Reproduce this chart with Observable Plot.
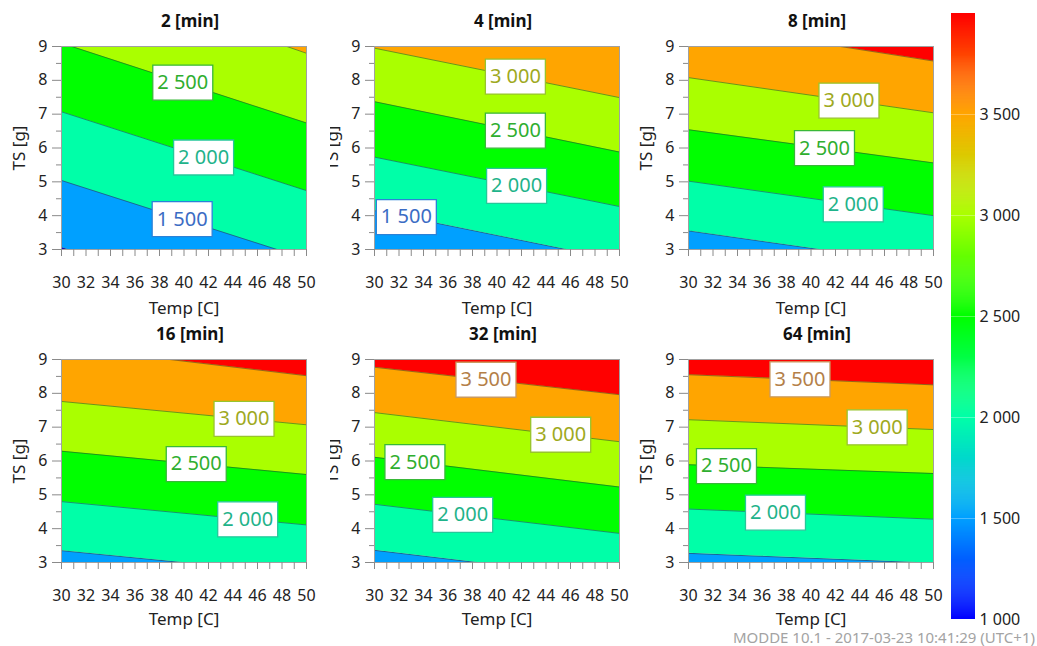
<!DOCTYPE html>
<html>
<head>
<meta charset="utf-8">
<script src="https://cdn.jsdelivr.net/npm/d3@7"></script>
<script src="https://cdn.jsdelivr.net/npm/@observablehq/plot@0.6"></script>
<style>
  body { margin: 0; background: #fff; }
  #chart { position: relative; width: 1037px; height: 646px; overflow: hidden; font-family: "Noto Sans", sans-serif; }
  .cell { position: absolute; overflow: hidden; }
  #caption { position: absolute; right: 2px; top: 629px; font-size: 15px; line-height: 17px; color: #a3a3a3; white-space: nowrap; }
</style>
</head>
<body>
<div id="chart"></div>
<script>
// Response surface: Temp [C] vs TS [g], one panel per time.
const panelTitles = ["2 [min]", "4 [min]", "8 [min]", "16 [min]", "32 [min]", "64 [min]"];
const levels = [1000, 1500, 2000, 2500, 3000, 3500];

// TS where each contour level meets Temp = 30 and Temp = 50 (null: level not present)
const tsAt30 = [
  [3.06, 5.04, 7.07, 9.10, 11.3, null],
  [null, 4.15, 5.73, 7.37, 8.95, null],
  [null, 3.55, 5.02, 6.54, 8.08, 9.70],
  [null, 3.35, 4.80, 6.29, 7.76, 9.38],
  [null, 3.36, 4.72, 6.11, 7.43, 8.77],
  [null, 3.27, 4.58, 5.89, 7.22, 8.55]
];
const tsAt50 = [
  [0.66, 2.72, 4.74, 6.74, 8.80, null],
  [null, 2.68, 4.27, 5.88, 7.49, null],
  [null, 2.52, 4.00, 5.56, 7.04, 8.57],
  [null, 2.64, 4.11, 5.60, 7.07, 8.52],
  [null, 2.50, 3.86, 5.23, 6.57, 7.96],
  [null, 2.98, 4.28, 5.63, 6.93, 8.25]
];

// contour labels: panel, level, and Temp where the label sits on its line
const labelPanel = [0, 0, 0, 1, 1, 1, 1, 2, 2, 2, 3, 3, 3, 4, 4, 4, 4, 5, 5, 5, 5];
const labelLevel = [2500, 2000, 1500, 3000, 2500, 2000, 1500, 3000, 2500, 2000, 3000, 2500, 2000, 3500, 3000, 2500, 2000, 3500, 3000, 2500, 2000];
const labelTemp  = [39.9, 41.6, 39.85, 41.5, 41.5, 41.6, 32.6, 43.1, 41.1, 43.45, 44.9, 41.0, 45.2, 39.1, 45.2, 33.3, 37.2, 39.1, 45.4, 33.1, 37.1];

// axes
const tempDomain = [30, 50];
const tsDomain = [3, 9];
const tempTicks = [30, 31, 32, 33, 34, 35, 36, 37, 38, 39, 40, 41, 42, 43, 44, 45, 46, 47, 48, 49, 50];
const tempLabels = [30, 32, 34, 36, 38, 40, 42, 44, 46, 48, 50];
const tsTicks = [3, 4, 5, 6, 7, 8, 9];
const tsMinorTicks = [3.5, 4.5, 5.5, 6.5, 7.5, 8.5];

// colour bar
const barDomain = [1000, 4000];
const barTicks = [1000, 1500, 2000, 2500, 3000, 3500];
const colorStops = [1000, 1500, 2000, 2500, 3000, 3500, 4000];
const colorRamp = ["#0000ff", "#00a0ff", "#00ffa8", "#00ff00", "#aaff00", "#ffa500", "#ff0000"];

const fmt = d3.formatLocale({decimal: ".", thousands: " ", grouping: [3], currency: ["", ""]}).format(",d");
const colorScale = {type: "linear", domain: colorStops, range: colorRamp, interpolate: "rgb"};

const labelInk = {1500: "#3b6cc4", 2000: "#1fb38a", 2500: "#2fae2f", 3000: "#9ea921", 3500: "#b47f48"};
const labelEdge = {1500: "#2b82d8", 2000: "#25c89a", 2500: "#38b838", 3000: "#98c42c", 3500: "#c99a60"};
const labelBox = {draw(ctx) { ctx.rect(-30, -17.5, 60, 35); }};

const font = "'Noto Sans', sans-serif";
const colLeft = [0, 330, 634];
const colWidth = [330, 304, 311];
const frameInset = [61, 44, 54];
const rowTop = [0, 313];
const rowHeight = [324, 333];
const xLabelDy = [59, 57];
const frameW = 245, frameH = 203, frameTop = 46;

const chart = document.getElementById("chart");

function panel(p) {
  const col = p % 3, row = Math.floor(p / 3);
  const lines = levels
    .map((lv, k) => ({lv, a: tsAt30[p][k], b: tsAt50[p][k]}))
    .filter(d => d.a != null);
  const pts = lines.flatMap(d => [{lv: d.lv, t: tempDomain[0], ts: d.a}, {lv: d.lv, t: tempDomain[1], ts: d.b}]);
  const lowest = lines[0].lv;
  const lineAt = (lv, t) => {
    const d = lines.find(l => l.lv === lv);
    return d.a + (d.b - d.a) * (t - tempDomain[0]) / (tempDomain[1] - tempDomain[0]);
  };
  const labels = labelPanel
    .map((q, i) => ({q, lv: labelLevel[i], t: labelTemp[i]}))
    .filter(d => d.q === p)
    .map(d => ({...d, ts: lineAt(d.lv, d.t)}));

  const width = colWidth[col], height = rowHeight[row];
  const ml = frameInset[col];
  const svg = Plot.plot({
    width, height,
    marginLeft: ml,
    marginRight: width - ml - frameW,
    marginTop: frameTop,
    marginBottom: height - frameTop - frameH,
    x: {domain: tempDomain},
    y: {domain: tsDomain},
    color: colorScale,
    style: {fontFamily: font, fontSize: "16px", color: "#222", background: "transparent", overflow: "visible"},
    marks: [
      // band below the lowest contour
      Plot.areaY(pts.filter(d => d.lv === lowest), {x: "t", y1: tsDomain[0], y2: "ts", fill: d => d.lv, clip: true}),
      // band above each contour, painted upward
      Plot.areaY(pts, {x: "t", y1: "ts", y2: tsDomain[1], z: "lv", fill: d => d.lv + 500, clip: true}),
      Plot.line(pts, {x: "t", y: "ts", z: "lv", stroke: "#333", strokeOpacity: 0.65, strokeWidth: 0.8, clip: true}),
      Plot.frame({stroke: "#a0a0a0"}),
      Plot.axisX(tempTicks, {tickSize: 7, tickPadding: 20, tickFormat: d => tempLabels.includes(d) ? String(d) : "", stroke: "#8a8a8a", fill: "#222", fontSize: 16, label: null}),
      Plot.axisY(tsTicks, {tickSize: 9, tickPadding: 5, stroke: "#8a8a8a", fill: "#222", fontSize: 16, label: null}),
      Plot.axisY(tsMinorTicks, {tickSize: 5, tickFormat: () => "", stroke: "#8a8a8a", label: null}),
      Plot.text([panelTitles[p]], {frameAnchor: "top", lineAnchor: "middle", dy: -25, dx: 6, fontWeight: "bold", fontSize: 17, fill: "#111"}),
      Plot.text(["Temp [C]"], {frameAnchor: "bottom", lineAnchor: "middle", dy: xLabelDy[row], fontSize: 17, fill: "#222"}),
      Plot.text(["TS [g]"], {frameAnchor: "left", textAnchor: "middle", lineAnchor: "middle", dx: -42, rotate: -90, fontSize: 17, fill: "#222"}),
      Plot.dot(labels, {x: "t", y: "ts", symbol: labelBox, fill: "white", stroke: d => labelEdge[d.lv], strokeWidth: 1.3}),
      Plot.text(labels, {x: "t", y: "ts", text: d => fmt(d.lv), fill: d => labelInk[d.lv], fontSize: 20})
    ]
  });
  const cell = document.createElement("div");
  cell.className = "cell";
  cell.style.left = colLeft[col] + "px";
  cell.style.top = rowTop[row] + "px";
  cell.style.width = width + "px";
  cell.style.height = height + "px";
  cell.appendChild(svg);
  chart.appendChild(cell);
}

for (let p = 0; p < panelTitles.length; ++p) panel(p);

// colour bar
const barStep = 5;
const barSteps = d3.range(barDomain[0], barDomain[1], barStep);
const bar = Plot.plot({
  width: 97, height: 646,
  marginLeft: 11, marginRight: 62, marginTop: 13, marginBottom: 27,
  x: {domain: [0, 1], axis: null},
  y: {domain: barDomain},
  color: colorScale,
  style: {fontFamily: font, fontSize: "16px", color: "#222", background: "transparent", overflow: "visible"},
  marks: [
    Plot.rect(barSteps, {x1: 0, x2: 1, y1: d => d, y2: d => Math.min(barDomain[1], d + barStep * 1.4), fill: d => d + barStep / 2}),
    Plot.ruleY(barTicks.slice(1), {stroke: "white", strokeOpacity: 0.3}),
    Plot.axisY(barTicks, {anchor: "right", tickSize: 0, tickPadding: 4, tickFormat: fmt, fill: "#222", fontSize: 16, label: null})
  ]
});
const barCell = document.createElement("div");
barCell.className = "cell";
barCell.style.left = "940px";
barCell.style.top = "0px";
barCell.style.width = "97px";
barCell.style.height = "646px";
barCell.appendChild(bar);
chart.appendChild(barCell);

const caption = document.createElement("div");
caption.id = "caption";
caption.textContent = "MODDE 10.1 - 2017-03-23 10:41:29 (UTC+1)";
chart.appendChild(caption);
</script>
</body>
</html>
